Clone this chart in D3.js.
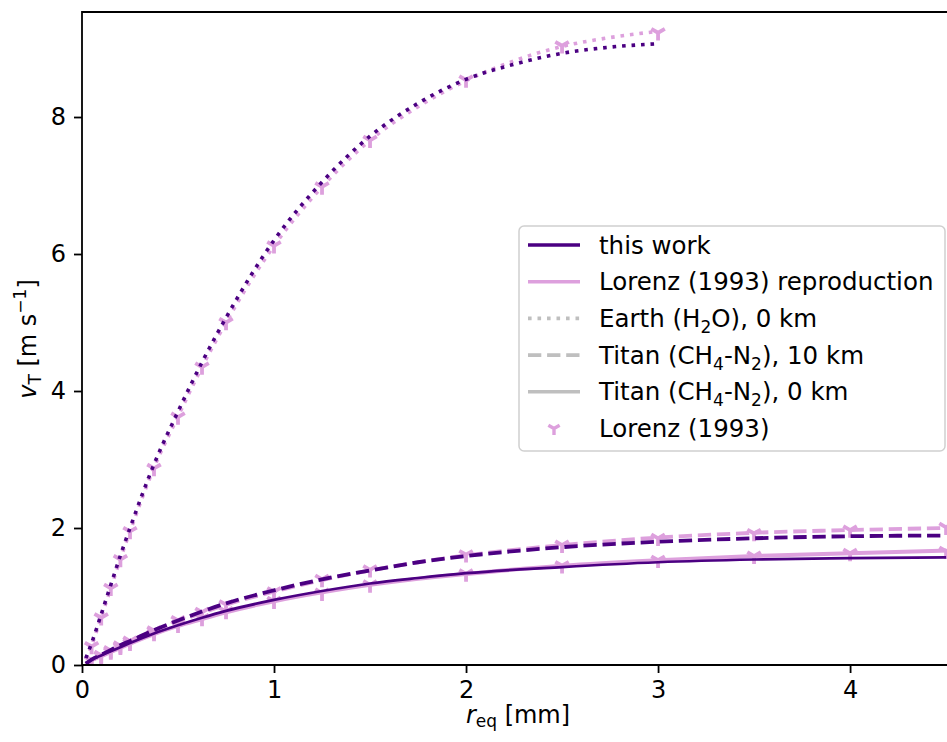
<!DOCTYPE html>
<meta charset="utf-8">
<script src="https://d3js.org/d3.v7.min.js"></script>
<style>
  body { margin: 0; background: #fff; }
  text { font-family: "DejaVu Sans", sans-serif; fill: #000; }
</style>
<div id="chart"></div>
<script>

// radii [mm] for the model curves
var rEarth = [0.02, 0.05, 0.1, 0.15, 0.2, 0.25, 0.375, 0.5, 0.625, 0.75, 1.0, 1.25, 1.5, 1.75, 2.0, 2.25, 2.5, 2.75, 3.0];
var earthThisWork = [0.10, 0.32, 0.74, 1.17, 1.60, 2.00, 2.93, 3.70, 4.42, 5.07, 6.20, 7.05, 7.72, 8.20, 8.55, 8.77, 8.93, 9.02, 9.07];
var earthRepro    = [0.08, 0.28, 0.70, 1.12, 1.55, 1.95, 2.88, 3.63, 4.35, 5.00, 6.12, 6.98, 7.66, 8.15, 8.53, 8.82, 9.03, 9.16, 9.25];

var rTitan = [0.02, 0.05, 0.1, 0.15, 0.2, 0.25, 0.375, 0.5, 0.625, 0.75, 1.0, 1.25, 1.5, 1.75, 2.0, 2.5, 3.0, 3.5, 4.0, 4.5];
var titan10ThisWork = [0.02, 0.08, 0.15, 0.22, 0.29, 0.35, 0.51, 0.65, 0.78, 0.90, 1.09, 1.25, 1.38, 1.50, 1.59, 1.72, 1.80, 1.85, 1.88, 1.89];
var titan10Repro    = [0.02, 0.07, 0.14, 0.21, 0.28, 0.35, 0.50, 0.64, 0.76, 0.88, 1.07, 1.24, 1.38, 1.50, 1.60, 1.75, 1.86, 1.93, 1.97, 2.00];
var titan0ThisWork  = [0.02, 0.08, 0.14, 0.20, 0.26, 0.32, 0.46, 0.58, 0.69, 0.79, 0.95, 1.08, 1.19, 1.27, 1.34, 1.43, 1.50, 1.54, 1.56, 1.57];
var titan0Repro     = [0.02, 0.07, 0.13, 0.19, 0.25, 0.31, 0.45, 0.57, 0.67, 0.77, 0.93, 1.06, 1.17, 1.26, 1.33, 1.45, 1.53, 1.59, 1.63, 1.67];

// Lorenz (1993) tabulated points
var rLorenzEarth = [0.05, 0.1, 0.15, 0.2, 0.25, 0.375, 0.5, 0.625, 0.75, 1.0, 1.25, 1.5, 2.0, 2.5, 3.0];
var lorenzEarth  = [0.27, 0.69, 1.12, 1.54, 1.95, 2.87, 3.62, 4.35, 5.00, 6.12, 6.98, 7.66, 8.54, 9.04, 9.23];
var rLorenzTitan = [0.05, 0.1, 0.15, 0.2, 0.25, 0.375, 0.5, 0.625, 0.75, 1.0, 1.25, 1.5, 2.0, 2.5, 3.0, 3.5, 4.0, 4.5];
var lorenzTitan10 = [0.07, 0.14, 0.21, 0.28, 0.35, 0.50, 0.65, 0.77, 0.88, 1.07, 1.25, 1.39, 1.61, 1.75, 1.85, 1.92, 1.97, 2.01];
var lorenzTitan0  = [0.07, 0.13, 0.19, 0.26, 0.32, 0.46, 0.58, 0.68, 0.78, 0.93, 1.05, 1.17, 1.33, 1.45, 1.53, 1.59, 1.63, 1.66];

var xTicks = [0, 1, 2, 3, 4];
var yTicks = [0, 2, 4, 6, 8];

var darkColor = "#4b0082", pinkColor = "#dda0dd", greyColor = "#bfbfbf";

// set the dimensions and margins of the graph
var margin = {top: 12, right: 0, bottom: 77, left: 82},
    width = 871,
    height = 653;

var svg = d3.select("#chart")
  .append("svg")
    .attr("width", 947)
    .attr("height", 742)
  .append("g")
    .attr("transform", "translate(" + margin.left + "," + margin.top + ")");

var x = d3.scaleLinear().domain([0, 4.536]).range([0, width]);
var y = d3.scaleLinear().domain([0, 9.533]).range([height, 0]);

svg.append("defs").append("clipPath")
    .attr("id", "clip")
  .append("rect")
    .attr("width", width)
    .attr("height", height);

var plot = svg.append("g").attr("clip-path", "url(#clip)");

var line = d3.line()
  .curve(d3.curveMonotoneX)
  .x(function(d) { return x(d[0]); })
  .y(function(d) { return y(d[1]); });

function addLine(rs, vs, color, w, dash) {
  plot.append("path")
    .datum(d3.zip(rs, vs))
    .attr("fill", "none")
    .attr("stroke", color)
    .attr("stroke-width", w)
    .attr("stroke-dasharray", dash)
    .attr("stroke-linecap", "butt")
    .attr("d", line);
}

var dotted = "3.6,5.9", dashed = "13.3,5.8";

// Lorenz reproduction (pink)
addLine(rEarth, earthRepro, pinkColor, 3.6, dotted);
addLine(rTitan, titan10Repro, pinkColor, 3.8, dashed);
addLine(rTitan, titan0Repro, pinkColor, 4, null);

// tri_down marker
function triDown(s) {
  var a = 0.866 * s, b = 0.5 * s;
  return "M0,0L0," + s + "M0,0L" + (-a) + "," + (-b) + "M0,0L" + a + "," + (-b);
}

function addMarkers(rs, vs) {
  plot.append("g").selectAll("path")
    .data(d3.zip(rs, vs))
    .enter().append("path")
      .attr("transform", function(d) { return "translate(" + x(d[0]) + "," + y(d[1]) + ")"; })
      .attr("d", triDown(7.8))
      .attr("fill", "none")
      .attr("stroke", pinkColor)
      .attr("stroke-width", 3.8);
}
addMarkers(rLorenzEarth, lorenzEarth);
addMarkers(rLorenzTitan, lorenzTitan10);
addMarkers(rLorenzTitan, lorenzTitan0);

// this work (dark)
addLine(rEarth, earthThisWork, darkColor, 3.6, dotted);
addLine(rTitan, titan10ThisWork, darkColor, 3.8, dashed);
addLine(rTitan, titan0ThisWork, darkColor, 2.7, null);

// Axes
var xAxis = svg.append("g")
  .attr("transform", "translate(0," + height + ")")
  .call(d3.axisBottom(x).tickValues(xTicks).tickSize(8).tickPadding(8).tickFormat(d3.format("d")));
var yAxis = svg.append("g")
  .call(d3.axisLeft(y).tickValues(yTicks).tickSize(8).tickPadding(8).tickFormat(d3.format("d")));

[xAxis, yAxis].forEach(function(ax) {
  ax.select(".domain").remove();
  ax.selectAll(".tick line").attr("stroke", "#000").attr("stroke-width", 1.8);
  ax.selectAll(".tick text").style("font-size", "24px").attr("fill", "#000");
});

// spines (right spine lies outside the picture)
svg.append("path")
  .attr("d", "M" + (width + 10) + ",0H0V" + height + "H" + (width + 10))
  .attr("fill", "none")
  .attr("stroke", "#000")
  .attr("stroke-width", 1.8);

// axis labels
var xl = svg.append("text")
  .attr("x", 436).attr("y", 711)
  .attr("text-anchor", "middle")
  .style("font-size", "24px");
xl.append("tspan").style("font-style", "italic").text("r");
xl.append("tspan").attr("dy", 4).style("font-size", "17px").text("eq");
xl.append("tspan").attr("dy", -4).text(" [mm]");

var yl = svg.append("text")
  .attr("transform", "translate(-46," + 327 + ") rotate(-90)")
  .attr("text-anchor", "middle")
  .style("font-size", "24px");
yl.append("tspan").style("font-style", "italic").text("v");
yl.append("tspan").attr("dy", 5).style("font-size", "17px").text("T");
yl.append("tspan").attr("dy", -5).text(" [m s");
yl.append("tspan").attr("dy", -10).style("font-size", "17px").text("\u22121");
yl.append("tspan").attr("dy", 10).text("]");

// Legend
var legendItems = [
  {label: ["this work"], color: darkColor, dash: null, w: 3.6},
  {label: ["Lorenz (1993) reproduction"], color: pinkColor, dash: null, w: 3.6},
  {label: ["Earth (H", "2", "O), 0 km"], color: greyColor, dash: dotted, w: 3.6},
  {label: ["Titan (CH", "4", "-N", "2", "), 10 km"], color: greyColor, dash: dashed, w: 3.6},
  {label: ["Titan (CH", "4", "-N", "2", "), 0 km"], color: greyColor, dash: null, w: 3.6},
  {label: ["Lorenz (1993)"], marker: true}
];

var lg = svg.append("g").attr("transform", "translate(" + (519 - margin.left) + "," + (226 - margin.top) + ")");
lg.append("rect")
  .attr("width", 426).attr("height", 225)
  .attr("rx", 5)
  .attr("fill", "#fff").attr("fill-opacity", 0.85)
  .attr("stroke", "#d0d0d0").attr("stroke-width", 1.5);

legendItems.forEach(function(it, i) {
  var cy = 19 + i * 36.7;
  if (it.marker) {
    lg.append("path")
      .attr("transform", "translate(35," + cy + ")")
      .attr("d", triDown(6.5))
      .attr("fill", "none")
      .attr("stroke", pinkColor)
      .attr("stroke-width", 3.4);
  } else {
    lg.append("line")
      .attr("x1", 9).attr("x2", 61)
      .attr("y1", cy).attr("y2", cy)
      .attr("stroke", it.color)
      .attr("stroke-width", it.w)
      .attr("stroke-dasharray", it.dash);
  }
  var t = lg.append("text")
    .attr("x", 80).attr("y", cy + 8.5)
    .style("font-size", "24.5px");
  it.label.forEach(function(s, k) {
    var sub = k % 2 === 1;
    var sp = t.append("tspan").text(s);
    if (sub) sp.attr("dy", 6).style("font-size", "17px");
    else if (k > 0) sp.attr("dy", -6);
  });
});

</script>
